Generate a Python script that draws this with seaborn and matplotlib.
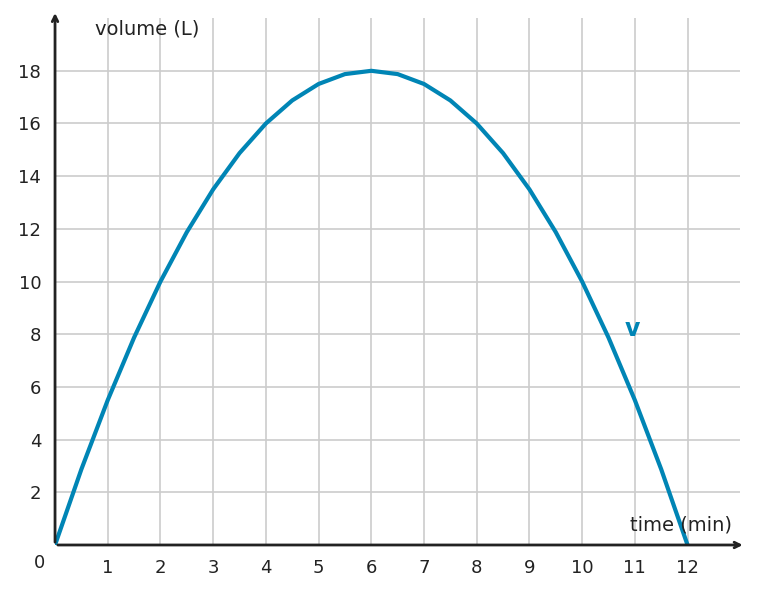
import matplotlib
matplotlib.use("Agg")
import matplotlib.pyplot as plt
import seaborn as sns
import pandas as pd

time_min = [0, 0.5, 1, 1.5, 2, 2.5, 3, 3.5, 4, 4.5, 5, 5.5, 6, 6.5, 7, 7.5, 8, 8.5, 9, 9.5, 10, 10.5, 11, 11.5, 12]
volume_L = [0, 2.875, 5.5, 7.875, 10, 11.875, 13.5, 14.875, 16, 16.875, 17.5, 17.875, 18,
            17.875, 17.5, 16.875, 16, 14.875, 13.5, 11.875, 10, 7.875, 5.5, 2.875, 0]
x_ticks = list(range(1, 13))
y_ticks = list(range(2, 20, 2))

sns.set_style("white")
plt.rcParams['font.family'] = ['DejaVu Sans']
fig = plt.figure(figsize=(7.58, 5.94), dpi=100)
ax = fig.add_axes([0.0726, 0.0825, 0.904, 0.887])
color = "#0085b5"
df = pd.DataFrame({"t": time_min, "v": volume_L})
sns.lineplot(data=df, x="t", y="v", ax=ax, color=color, lw=3)
ax.set_xlim(0, 13)
ax.set_ylim(0, 20)
ax.set_xticks(x_ticks)
ax.set_yticks(y_ticks)
ax.set_xticklabels([str(t) for t in x_ticks], fontsize=13, color="#222")
ax.set_yticklabels([str(t) for t in y_ticks], fontsize=13, color="#222")
ax.tick_params(length=0, pad=10)
ax.grid(True, color="#cccccc", lw=1.2)
ax.set_xlabel(""); ax.set_ylabel("")
for s in ax.spines.values():
    s.set_visible(False)
ax.annotate("", xy=(13.1, 0), xytext=(0, 0), xycoords="data",
            arrowprops=dict(arrowstyle="->", color="#222", lw=2), annotation_clip=False)
ax.annotate("", xy=(0, 20.3), xytext=(0, 0), xycoords="data",
            arrowprops=dict(arrowstyle="->", color="#222", lw=2), annotation_clip=False)
ax.text(-0.3, -0.7, "0", fontsize=13, color="#222", ha="center", va="center")
ax.text(0.75, 19.6, "volume (L)", fontsize=14, color="#222", ha="left", va="center")
ax.text(12.85, 0.75, "time (min)", fontsize=14, color="#222", ha="right", va="center")
ax.text(10.95, 8.2, "v", fontsize=17, color=color, fontweight="bold", ha="center", va="center")
fig.savefig("out.png", dpi=100)
